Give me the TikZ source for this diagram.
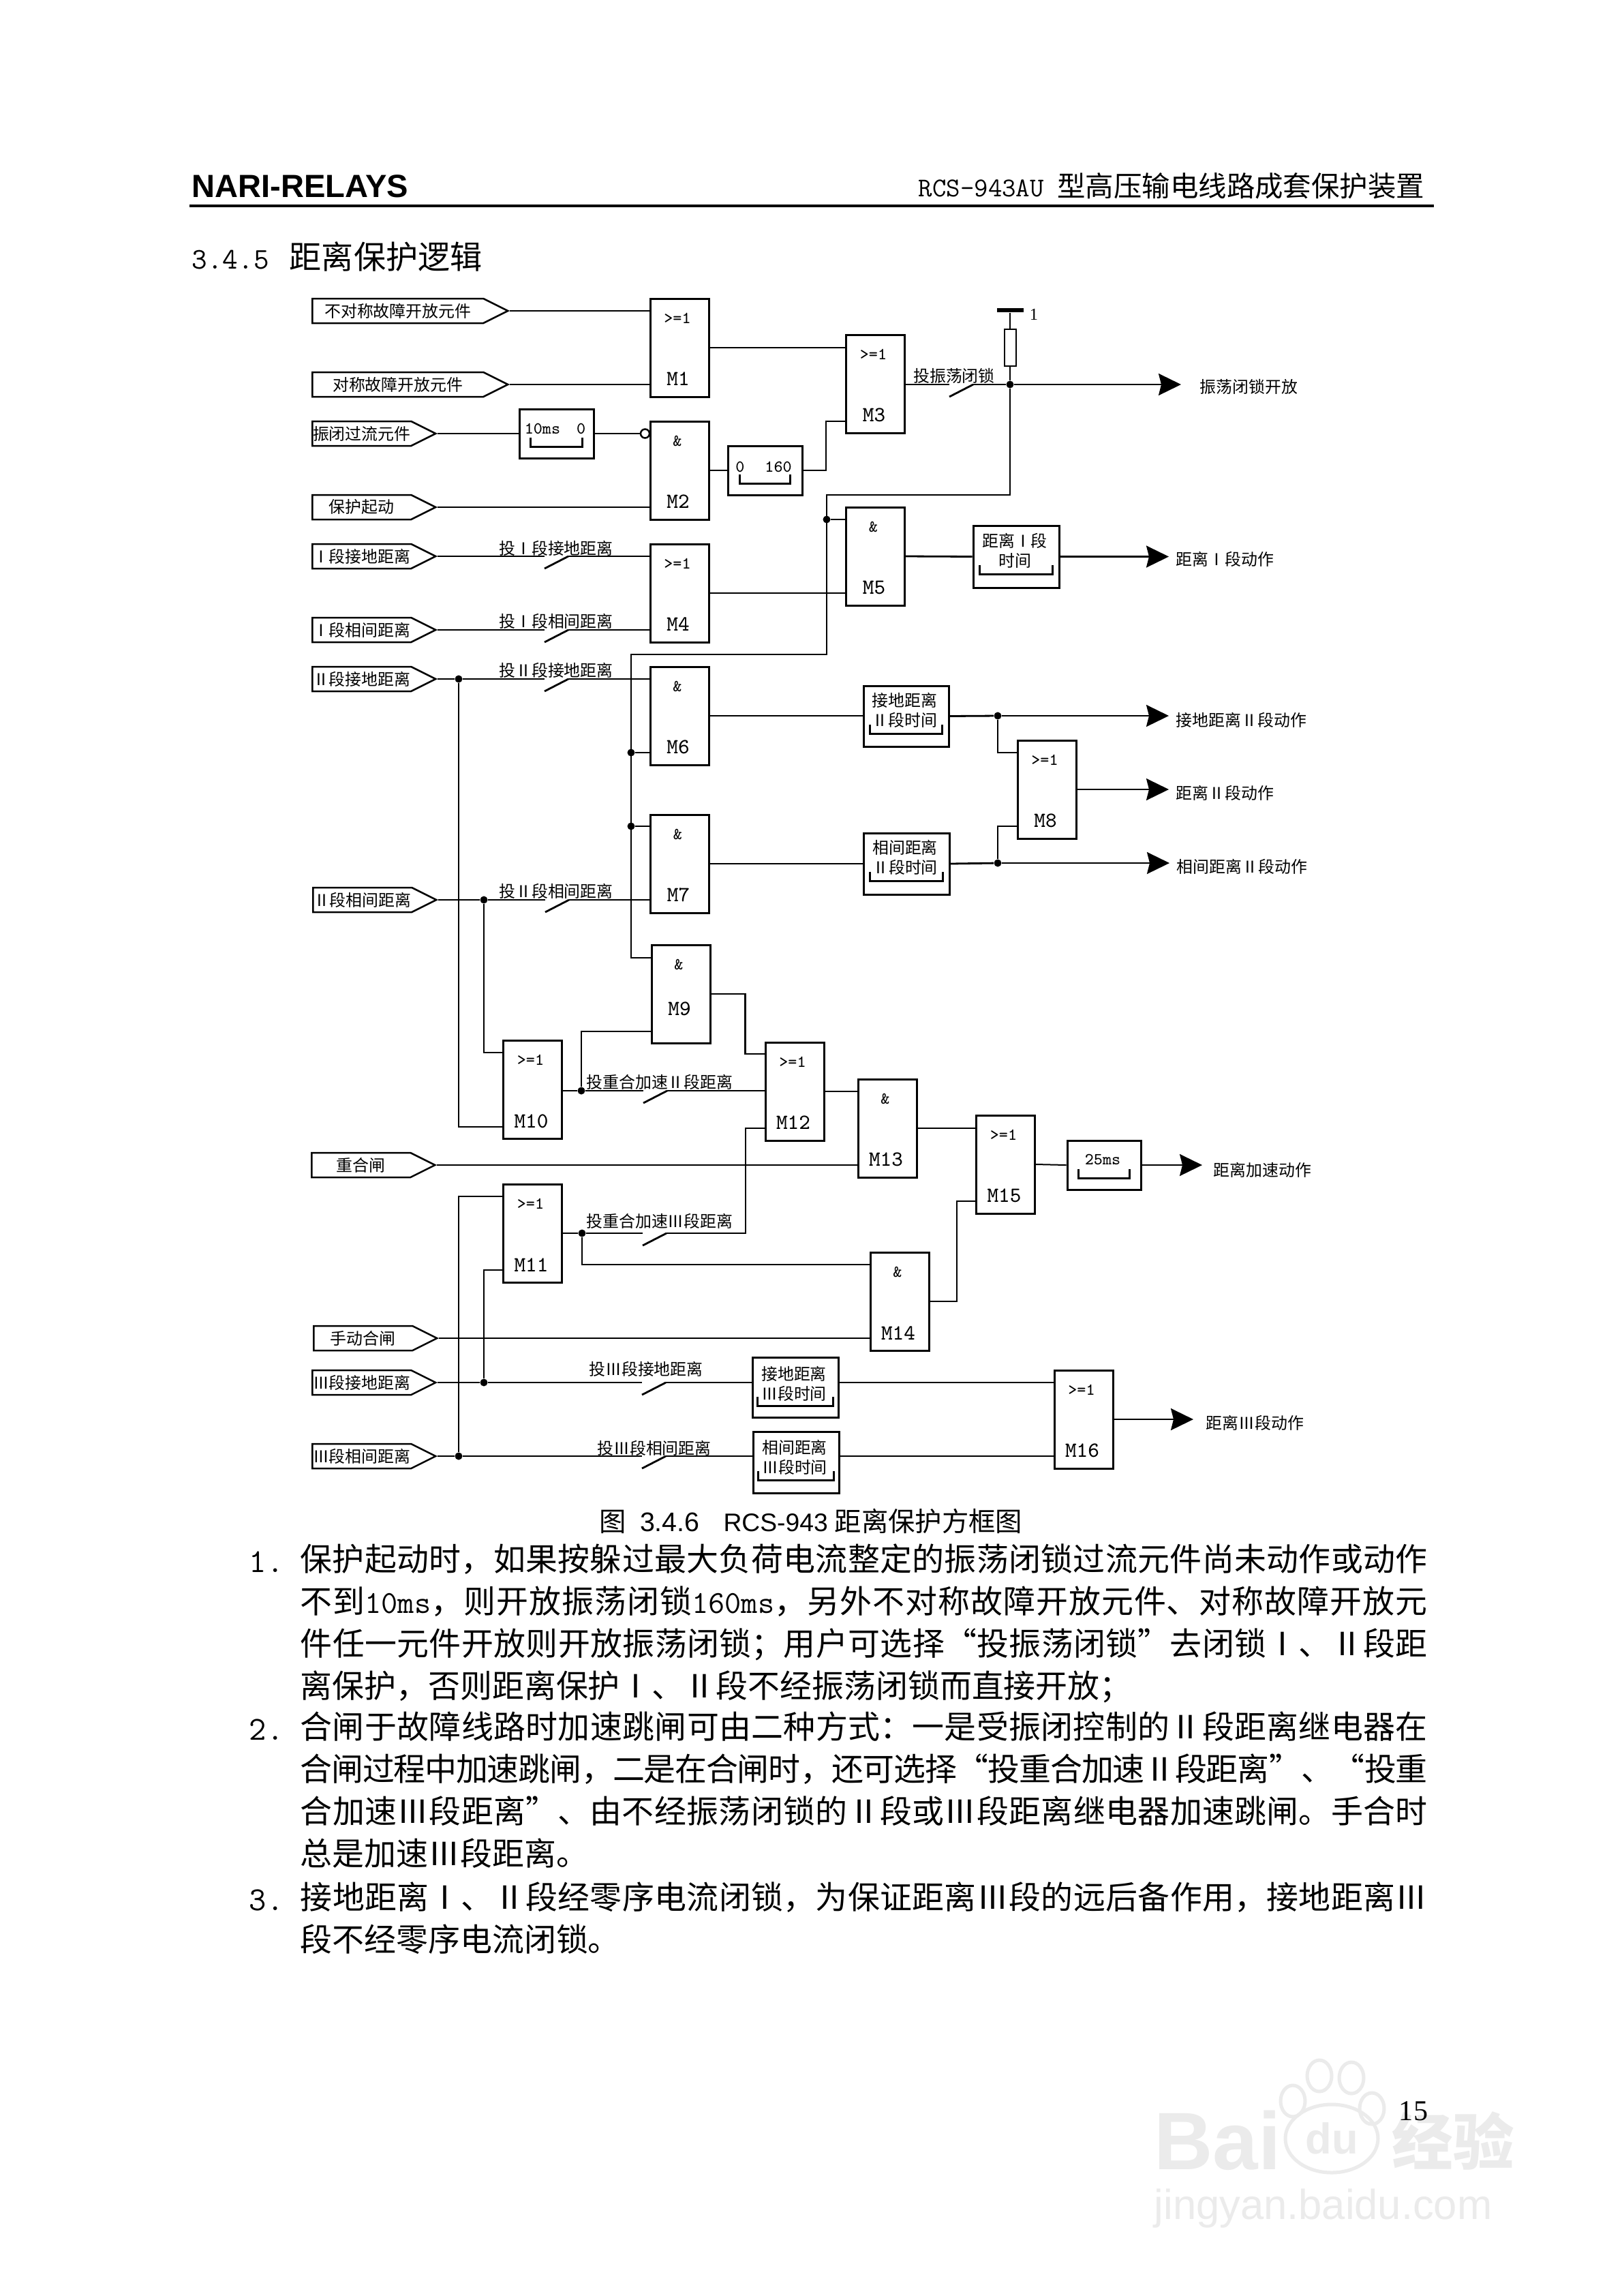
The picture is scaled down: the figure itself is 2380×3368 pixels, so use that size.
\documentclass[tikz,border=0pt]{standalone}
\usepackage{fontspec}
\setmainfont{Noto Sans CJK SC}
\newfontfamily\latinsans{Liberation Sans}
\newfontfamily\latinserif{Liberation Serif}
\usetikzlibrary{arrows.meta,calc,shapes.symbols}
\XeTeXlinebreaklocale "zh"
\XeTeXlinebreakskip=0pt plus 3pt minus 0.8pt
\definecolor{wmGray}{HTML}{EBEBEB}
\tikzset{
  cn/.style    ={inner sep=0pt, align=center, font=\fontsize{6.8}{8.2}\selectfont},
  gate/.style  ={draw, rectangle, minimum width=8.6mm, minimum height=14.4mm, inner sep=0pt, line width=0.3mm},
  gatesym/.style={inner sep=0pt, font=\ttfamily\fontsize{7}{8}\selectfont},
  gatetag/.style={inner sep=0pt, font=\ttfamily\fontsize{9}{10}\selectfont},
  timer/.style ={draw, rectangle, inner sep=0pt, line width=0.3mm},
  inbox/.style ={draw, signal, signal to=east, signal from=nowhere, signal pointer angle=53.13,
                 anchor=west, inner sep=0pt, minimum height=3.6mm, line width=0.25mm,
                 font=\fontsize{6.8}{8.2}\selectfont},
  dot/.style   ={circle, fill=black, inner sep=0pt, minimum size=1.1mm},
  wire/.style  ={line width=0.2mm},
  wireb/.style ={line width=0.28mm},
  arr/.style   ={-{Stealth[length=3.3mm,width=3.2mm,inset=0.4mm]}, line width=0.25mm},
  para/.style  ={anchor=north west, inner sep=0pt, text width=165.4mm, align=justify,
                 font=\fontsize{13.35}{17.6}\selectfont},
  wmark/.style ={draw=wmGray, line width=0.5mm},
  wmtext/.style={inner sep=0pt, text=wmGray, font=\latinsans\bfseries},
}
\begin{document}
\begin{tikzpicture}[x=0.1mm,y=-0.1mm]
  \useasboundingbox[fill=white] (0,0) rectangle (2380,3368);

  % watermark in the corner
  \node[wmtext, anchor=west, font=\latinsans\bfseries\fontsize{34}{36}\selectfont] (wmBai) at (1693,3140) {Bai};
  \node[wmtext, font=\latinsans\bfseries\fontsize{18}{20}\selectfont] (wmDu) at (1954,3137) {du};
  \node[wmtext, anchor=west, font=\bfseries\fontsize{25.5}{28}\selectfont] (wmCn) at (2042,3140) {经验};
  \node[wmtext, anchor=west, font=\latinsans\fontsize{17.5}{20}\selectfont] (wmUrl) at (1693,3240) {jingyan.baidu.com};
  \draw[wmark] (1954,3137) ellipse [x radius=68, y radius=50];
  \foreach \x/\y in {1897/3082, 1936/3045, 1983/3048, 2013/3093}
    \draw[wmark] (\x,\y) ellipse [x radius=18, y radius=23];

  % page head
  \node[inner sep=0pt, anchor=west, font=\latinsans\bfseries\fontsize{13.4}{14}\selectfont] (brand) at (281,273) {NARI-RELAYS};
  \node[inner sep=0pt, anchor=east, font=\fontsize{11.8}{14}\selectfont] (product) at (2091,273) {{\ttfamily\fontsize{11.3}{14}\selectfont RCS-943AU}\hspace{1mm} 型高压输电线路成套保护装置};
  \coordinate (ruleL) at (278,302);
  \coordinate (ruleR) at (2104,302);
  \draw[line width=0.35mm] (ruleL) -- (ruleR);
  \node[inner sep=0pt, anchor=west, font=\fontsize{13.4}{16}\selectfont] (section) at (281,376) {{\ttfamily\fontsize{12.5}{16}\selectfont 3.4.5}\hspace{3mm}距离保护逻辑};

  % logic blocks
  \foreach \n/\x/\y/\q/\s in {M1/997/510/119/{>=1}, M2/997/690/119/{\&}, M3/1284.5/563.5/119/{>=1}, M4/997/870/119/{>=1},
      M5/1284.5/816/119/{\&}, M6/997/1050/119/{\&}, M7/997.5/1267/119/{\&}, M8/1536/1158/119/{>=1}, M9/999/1458/95/{\&},
      M10/781.5/1598/120/{>=1}, M11/781.5/1809/120/{>=1}, M12/1166/1601/119/{>=1}, M13/1302/1655/119/{\&},
      M14/1320/1909/120/{\&}, M15/1475.5/1708/119/{>=1}, M16/1590/2082/119/{>=1}} {
    \node[gate] (\n) at (\x,\y) {};
    \node[gatesym] (\n sym) at ($(\n.north)+(-3,30)$) {\s};
    \node[gatetag] (\n tag) at ($(\n.north)+(-2,\q)$) {\n};
  }

  % input terminals
  \foreach \n/\x/\y/\w/\t in {inA/457/456/25.1/不对称故障开放元件, inB/457/564/25.1/对称故障开放元件,
      inC/457/636/14.5/振闭过流元件, inD/457/744/14.5/保护起动, inE/457/816/14.5/Ⅰ段接地距离,
      inF/457/924/14.5/Ⅰ段相间距离, inG/457/996/14.5/Ⅱ段接地距离, inH/458/1320/14.5/Ⅱ段相间距离,
      inI/456/1709/14.5/重合闸, inJ/459/1963/14.5/手动合闸, inK/457/2028/14.5/Ⅲ段接地距离,
      inL/457/2136/14.5/Ⅲ段相间距离}
    \node[inbox] (\n) at (\x,\y) {\makebox[\w mm]{\t}};

  % timers: name, centre, size, text offset, bracket inset and gap, text
  \foreach \n/\x/\y/\w/\h/\o/\bi/\bd/\t in {T10/816.5/636/109/72/-7/18/18/{\ttfamily\fontsize{7}{8}\selectfont 10ms\hspace{2.4mm}0},
      T160/1122.5/690/109/72/-5/19/18/{\ttfamily\fontsize{7}{8}\selectfont 0\hspace{3mm}160},
      T1/1491/816.5/126/91/-9/11/21/{距离Ⅰ段\\时间}, T2/1329.5/1050.5/125/89/-9/11/20/{接地距离\\Ⅱ段时间},
      T3/1330/1267/126/90/-9/11/21/{相间距离\\Ⅱ段时间}, T4/1620/1709/108/72/-8/18/18/{\ttfamily\fontsize{7}{8}\selectfont 25ms},
      T5/1167/2035/126/88/-5/9/18/{接地距离\\Ⅲ段时间}, T6/1168/2145/126/90/-7/9/20/{相间距离\\Ⅲ段时间}} {
    \node[timer, minimum width=\w*0.1mm, minimum height=\h*0.1mm] (\n) at (\x,\y) {};
    \node[cn] (\n txt) at ($(\n.center)+(-2,\o)$) {\t};
    \draw[wireb] ($(\n.south west)+(\bi,-14-\bd)$) -- ($(\n.south west)+(\bi,-\bd)$)
      -- ($(\n.south east)+(-\bi,-\bd)$) -- ($(\n.south east)+(-\bi,-14-\bd)$);
  }

  % outputs, tip of the arrow on the west side
  \foreach \n/\x/\y/\g/\t in {outZ/1733/567/2.7/振荡闭锁开放, out1/1715/820/1/距离Ⅰ段动作, out2/1715/1056/1/接地距离Ⅱ段动作,
      out3/1715/1163/1/距离Ⅱ段动作, out4/1716/1271/1/相间距离Ⅱ段动作, out5/1764/1716/1.6/距离加速动作,
      out6/1751/2087/1.8/距离Ⅲ段动作}
    \node[cn, anchor=west, inner xsep=\g mm] (\n) at (\x,\y) {\t};

  % switches with their labels
  \foreach \n/\x/\y/\lx/\ly/\t in {swA/799/816/816/804/投Ⅰ段接地距离, swB/799/924/816/911/投Ⅰ段相间距离,
      swC/799/996/816/983/投Ⅱ段接地距离, swD/800/1320/816/1307/投Ⅱ段相间距离,
      swE/944/1600/968/1587/投重合加速Ⅱ段距离, swF/943/1809/968/1791/投重合加速Ⅲ段距离,
      swG/942/2028/948/2008/投Ⅲ段接地距离, swH/942/2136/960/2124/投Ⅲ段相间距离} {
    \coordinate (\n a) at (\x,\y);
    \coordinate (\n b) at (\x+35,\y);
    \draw[wireb] ($(\n a)+(0,18)$) -- (\n b);
    \node[cn] (\n lab) at (\lx,\ly) {\t};
  }
  \coordinate (swZa) at (1393,564);
  \coordinate (swZb) at (1428,564);
  \draw[wireb] ($(swZa)+(0,18)$) -- (swZb);
  \node[cn] (swZlab) at (1400,551) {投振荡闭锁};

  % junction dots
  \foreach \n/\x/\y in {dZ/1482/564, dE/1213/762, dF/926/1104, dG/926/1212, dH/673/996, dI/710/1320,
      dJ/1464/1050, dK/1464/1266, dL/853/1600, dM/854/1809, dN/710/2028, dO/673/2136}
    \node[dot] (\n) at (\x,\y) {};

  % pull-up to the supply rail
  \node[fill=black, inner sep=0pt, minimum width=3.9mm, minimum height=0.6mm] (rail) at (1482,455) {};
  \node[inner sep=0pt, font=\latinserif\fontsize{7}{8}\selectfont] (railOne) at (1517,461) {1};
  \node[draw, rectangle, inner sep=0pt, minimum width=1.7mm, minimum height=5.4mm, line width=0.25mm] (res) at (1482.5,510) {};
  \draw[wire] (rail) -- (res.north -| rail);
  \draw[wire] (res.south -| dZ) -- (dZ);

  % upper part
  \draw[wire] (inA.east) -- (inA.east -| M1.west);
  \draw[wire] (inB.east) -- (inB.east -| M1.west);
  \node[draw, circle, inner sep=0pt, minimum size=1.3mm, line width=0.25mm] (notM2) at (946.5,636) {};
  \draw[wireb] (inC.east) -- (inC.east -| T10.west);
  \draw[wireb] (T10.east) -- (notM2.west);
  \draw[wire] (inD.east) -- (inD.east -| M2.west);
  \draw[wireb] (M1.east) -- (M1.east -| M3.west);
  \draw[wireb] (M2.east) -- (T160.west);
  \coordinate (b3) at (1212,618);
  \draw[wireb] (T160.east) -| (b3) -- (b3 -| M3.west);
  \draw[wire] (M3.east |- swZa) -- (swZa);
  \draw[wire] (swZb) -- (dZ);
  \draw[arr] (dZ) -- (dZ -| outZ.west);

  % blocking bus
  \coordinate (c1) at (1213,726);
  \coordinate (c2) at (1213,960);
  \coordinate (c3) at (926,960);
  \coordinate (c4) at (926,1405);
  \draw[wire] (dZ) |- (c1) -- (c2) -- (c3) -- (c4) -- (c4 -| M9.west);
  \foreach \a/\b in {dE/M5, dF/M6, dG/M7} \draw[wire] (\a) -- (\a -| \b.west);

  % zone one
  \draw[wireb] (inE.east) -- (swAa);
  \draw[wireb] (swAb) -- (swAb -| M4.west);
  \draw[wire] (inF.east) -- (swBa);
  \draw[wire] (swBb) -- (swBb -| M4.west);
  \draw[wireb] (M4.east) -- (M4.east -| M5.west);
  \draw[wireb] (M5.east) -- (T1.west);
  \draw[arr] (T1.east) -- (T1.east -| out1.west);

  % zone two
  \draw[wireb] (inG.east) -- (dH) -- (swCa);
  \draw[wireb] (swCb) -- (swCb -| M6.west);
  \draw[wireb] (inH.east) -- (dI) -- (swDa);
  \draw[wireb] (swDb) -- (swDb -| M7.west);
  \draw[wireb] (M6.east) -- (M6.east -| T2.west);
  \draw[wireb] (T2.east) -- (dJ);
  \draw[arr] (dJ) -- (dJ -| out2.west);
  \draw[wireb] (M7.east) -- (M7.east -| T3.west);
  \draw[wireb] (T3.east) -- (dK);
  \draw[arr] (dK) -- (dK -| out4.west);
  \coordinate (m8a) at (1493,1104);
  \coordinate (m8b) at (1493,1212);
  \draw[wire] (dJ) |- (m8a);
  \draw[wire] (dK) |- (m8b);
  \draw[arr] (M8.east) -- (M8.east -| out3.west);

  % acceleration
  \coordinate (m10a) at (738,1544);
  \coordinate (m10b) at (738,1653);
  \coordinate (m11a) at (738,1755);
  \coordinate (m11b) at (738,1863);
  \draw[wireb] (dI) |- (m10a);
  \draw[wire] (dH) |- (m10b);
  \draw[wireb] (M10.east |- dL) -- (dL) -- (swEa);
  \coordinate (m9b) at (956,1513);
  \draw[wire] (dL) |- (m9b);
  \draw[wire] (swEb) -- (swEb -| M12.west);
  \coordinate (k9) at (1093.5,1458);
  \coordinate (m12a) at (1122,1546);
  \draw[wireb] (M9.east) -- (k9) |- (m12a);
  \draw[wireb] (M12.east) -- (M12.east -| M13.west);
  \draw[wire] (inI.east) -- (inI.east -| M13.west);
  \coordinate (k11) at (1093.5,1809);
  \coordinate (m12b) at (1122,1655);
  \draw[wireb] (M11.east |- dM) -- (dM) -- (swFa);
  \draw[wire] (swFb) -- (k11) |- (m12b);
  \coordinate (m14a) at (1277,1855);
  \draw[wire] (dM) |- (m14a);
  \draw[wire] (inJ.east) -- (inJ.east -| M14.west);
  \draw[wire] (M13.east) -- (M13.east -| M15.west);
  \coordinate (k14) at (1404,1909);
  \coordinate (m15b) at (1432,1762);
  \draw[wire] (M14.east) -- (k14) |- (m15b);
  \draw[wire] (M15.east) -- (T4.west);
  \draw[arr] (T4.east) -- (T4.east -| out5.west);

  % zone three
  \draw[wireb] (inK.east) -- (dN) -- (swGa);
  \draw[wireb] (swGb) -- (swGb -| T5.west);
  \draw[wireb] (T5.east |- swGb) -- (swGb -| M16.west);
  \draw[wireb] (inL.east) -- (dO) -- (swHa);
  \draw[wireb] (swHb) -- (swHb -| T6.west);
  \draw[wireb] (T6.east |- swHb) -- (swHb -| M16.west);
  \draw[wire] (dN) |- (m11b);
  \draw[wire] (dO) |- (m11a);
  \draw[arr] (M16.east) -- (M16.east -| out6.west);

  % caption and body text
  \node[inner sep=0pt, font=\fontsize{11.2}{14}\selectfont] (caption) at (1190,2231)
    {图\hspace{2mm}{\latinsans 3.4.6}\hspace{3.5mm}{\latinsans\fontsize{10.6}{14}\selectfont RCS-943}\hspace{1mm}距离保护方框图};
  \foreach \n/\y/\t in {num1/2291/1., num2/2537/2., num3/2787/3.}
    \node[inner sep=0pt, anchor=west, font=\ttfamily\fontsize{14}{16}\selectfont] (\n) at (365,\y) {\t};
  \node[para] (p1) at (440,2264) {保护起动时，如果按躲过最大负荷电流整定的振荡闭锁过流元件尚未动作或动作\linebreak
    不到{\ttfamily 10ms}，则开放振荡闭锁{\ttfamily 160ms}，另外不对称故障开放元件、对称故障开放元\linebreak
    件任一元件开放则开放振荡闭锁；用户可选择“投振荡闭锁”去闭锁Ⅰ、Ⅱ段距\linebreak
    离保护，否则距离保护Ⅰ、Ⅱ段不经振荡闭锁而直接开放；};
  \node[para] (p2) at (440,2510) {合闸于故障线路时加速跳闸可由二种方式：一是受振闭控制的Ⅱ段距离继电器在\linebreak
    合闸过程中加速跳闸，二是在合闸时，还可选择“投重合加速Ⅱ段距离”、“投重\linebreak
    合加速Ⅲ段距离”、由不经振荡闭锁的Ⅱ段或Ⅲ段距离继电器加速跳闸。手合时\linebreak
    总是加速Ⅲ段距离。};
  \node[para] (p3) at (440,2760) {接地距离Ⅰ、Ⅱ段经零序电流闭锁，为保证距离Ⅲ段的远后备作用，接地距离Ⅲ\linebreak
    段不经零序电流闭锁。};
  \node[inner sep=0pt, font=\latinserif\fontsize{12}{14}\selectfont] (pageNo) at (2074,3097) {15};
\end{tikzpicture}
\end{document}
